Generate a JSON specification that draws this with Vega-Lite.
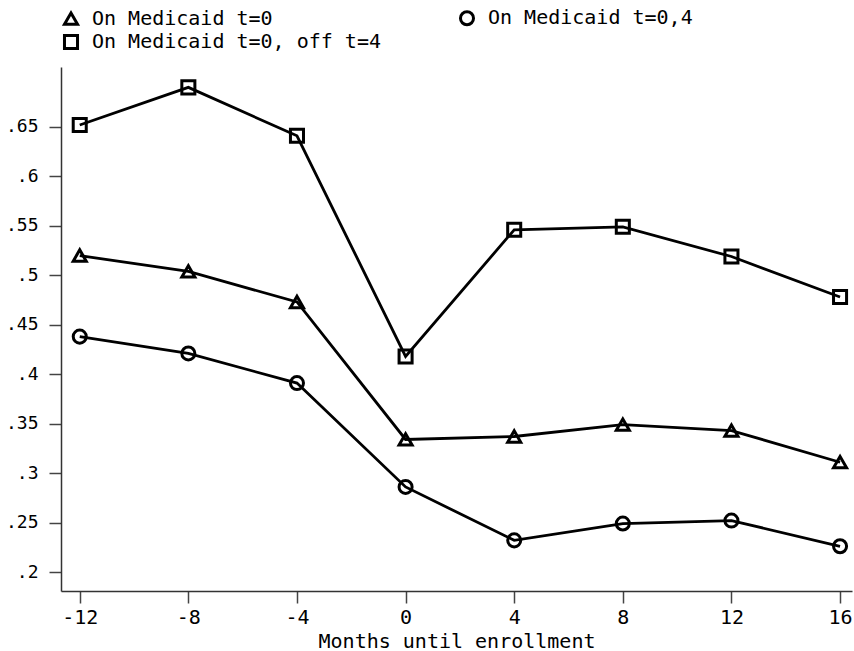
{
  "$schema": "https://vega.github.io/schema/vega-lite/v6.json",
  "width": 791,
  "height": 524,
  "autosize": "none",
  "padding": {"left": 61, "top": 67, "right": 2, "bottom": 60},
  "background": "white",
  "config": {
    "view": {"stroke": null},
    "font": "DejaVu Sans Mono",
    "axis": {"grid": false, "domainColor": "#333333", "domainWidth": 1.5, "tickColor": "#444444", "tickWidth": 1.5, "labelColor": "black", "titleColor": "black", "labelFont": "DejaVu Sans Mono", "titleFont": "DejaVu Sans Mono"}
  },
  "data": {
    "values": [
      {"month": -12, "share": 0.520, "group": "On Medicaid t=0"},
      {"month": -8, "share": 0.504, "group": "On Medicaid t=0"},
      {"month": -4, "share": 0.473, "group": "On Medicaid t=0"},
      {"month": 0, "share": 0.334, "group": "On Medicaid t=0"},
      {"month": 4, "share": 0.337, "group": "On Medicaid t=0"},
      {"month": 8, "share": 0.349, "group": "On Medicaid t=0"},
      {"month": 12, "share": 0.343, "group": "On Medicaid t=0"},
      {"month": 16, "share": 0.311, "group": "On Medicaid t=0"},
      {"month": -12, "share": 0.438, "group": "On Medicaid t=0,4"},
      {"month": -8, "share": 0.421, "group": "On Medicaid t=0,4"},
      {"month": -4, "share": 0.391, "group": "On Medicaid t=0,4"},
      {"month": 0, "share": 0.286, "group": "On Medicaid t=0,4"},
      {"month": 4, "share": 0.232, "group": "On Medicaid t=0,4"},
      {"month": 8, "share": 0.249, "group": "On Medicaid t=0,4"},
      {"month": 12, "share": 0.252, "group": "On Medicaid t=0,4"},
      {"month": 16, "share": 0.226, "group": "On Medicaid t=0,4"},
      {"month": -12, "share": 0.652, "group": "On Medicaid t=0, off t=4"},
      {"month": -8, "share": 0.690, "group": "On Medicaid t=0, off t=4"},
      {"month": -4, "share": 0.641, "group": "On Medicaid t=0, off t=4"},
      {"month": 0, "share": 0.418, "group": "On Medicaid t=0, off t=4"},
      {"month": 4, "share": 0.546, "group": "On Medicaid t=0, off t=4"},
      {"month": 8, "share": 0.549, "group": "On Medicaid t=0, off t=4"},
      {"month": 12, "share": 0.519, "group": "On Medicaid t=0, off t=4"},
      {"month": 16, "share": 0.478, "group": "On Medicaid t=0, off t=4"}
    ]
  },
  "encoding": {
    "x": {
      "field": "month",
      "type": "quantitative",
      "scale": {"domain": [-12.69, 16.44], "nice": false, "zero": false},
      "axis": {
        "values": [-12, -8, -4, 0, 4, 8, 12, 16],
        "labelExpr": "datum.value < 0 ? '-' + abs(datum.value) : '' + datum.value",
        "title": "Months until enrollment",
        "labelFontSize": 20,
        "tickSize": 12,
        "labelPadding": 4,
        "labelFlush": false,
        "titleFontSize": 20,
        "titleFontWeight": "normal",
        "titleBaseline": "alphabetic",
        "titleY": 56
      }
    },
    "y": {
      "field": "share",
      "type": "quantitative",
      "scale": {"domain": [0.1808, 0.7106], "nice": false, "zero": false},
      "axis": {
        "values": [0.2, 0.25, 0.3, 0.35, 0.4, 0.45, 0.5, 0.55, 0.6, 0.65],
        "labelExpr": "replace(format(datum.value, '.2~f'), '0.', '.')",
        "title": null,
        "labelFontSize": 18,
        "tickSize": 12,
        "labelPadding": 11,
        "labelFlush": false
      }
    }
  },
  "layer": [
    {
      "mark": {"type": "line", "color": "black", "strokeWidth": 2.8},
      "encoding": {"detail": {"field": "group", "type": "nominal"}}
    },
    {
      "mark": {"type": "point", "filled": false, "color": "black", "strokeWidth": 3, "size": 170, "opacity": 1},
      "encoding": {
        "shape": {
          "field": "group",
          "type": "nominal",
          "scale": {
            "domain": ["On Medicaid t=0", "On Medicaid t=0,4", "On Medicaid t=0, off t=4"],
            "range": ["triangle-up", "circle", "square"]
          },
          "legend": {
            "title": null,
            "orient": "none",
            "legendX": 0,
            "legendY": -59,
            "columns": 2,
            "padding": 0,
            "values": ["On Medicaid t=0", "On Medicaid t=0, off t=4", "On Medicaid t=0,4"],
            "labelFont": "DejaVu Sans Mono",
            "labelFontSize": 20,
            "labelColor": "black",
            "labelOffset": 11,
            "symbolSize": 170,
            "symbolStrokeWidth": 3,
            "symbolStrokeColor": "black",
            "symbolFillColor": "transparent",
            "columnPadding": 73,
            "rowPadding": -2,
            "labelLimit": 0
          }
        }
      }
    }
  ]
}
